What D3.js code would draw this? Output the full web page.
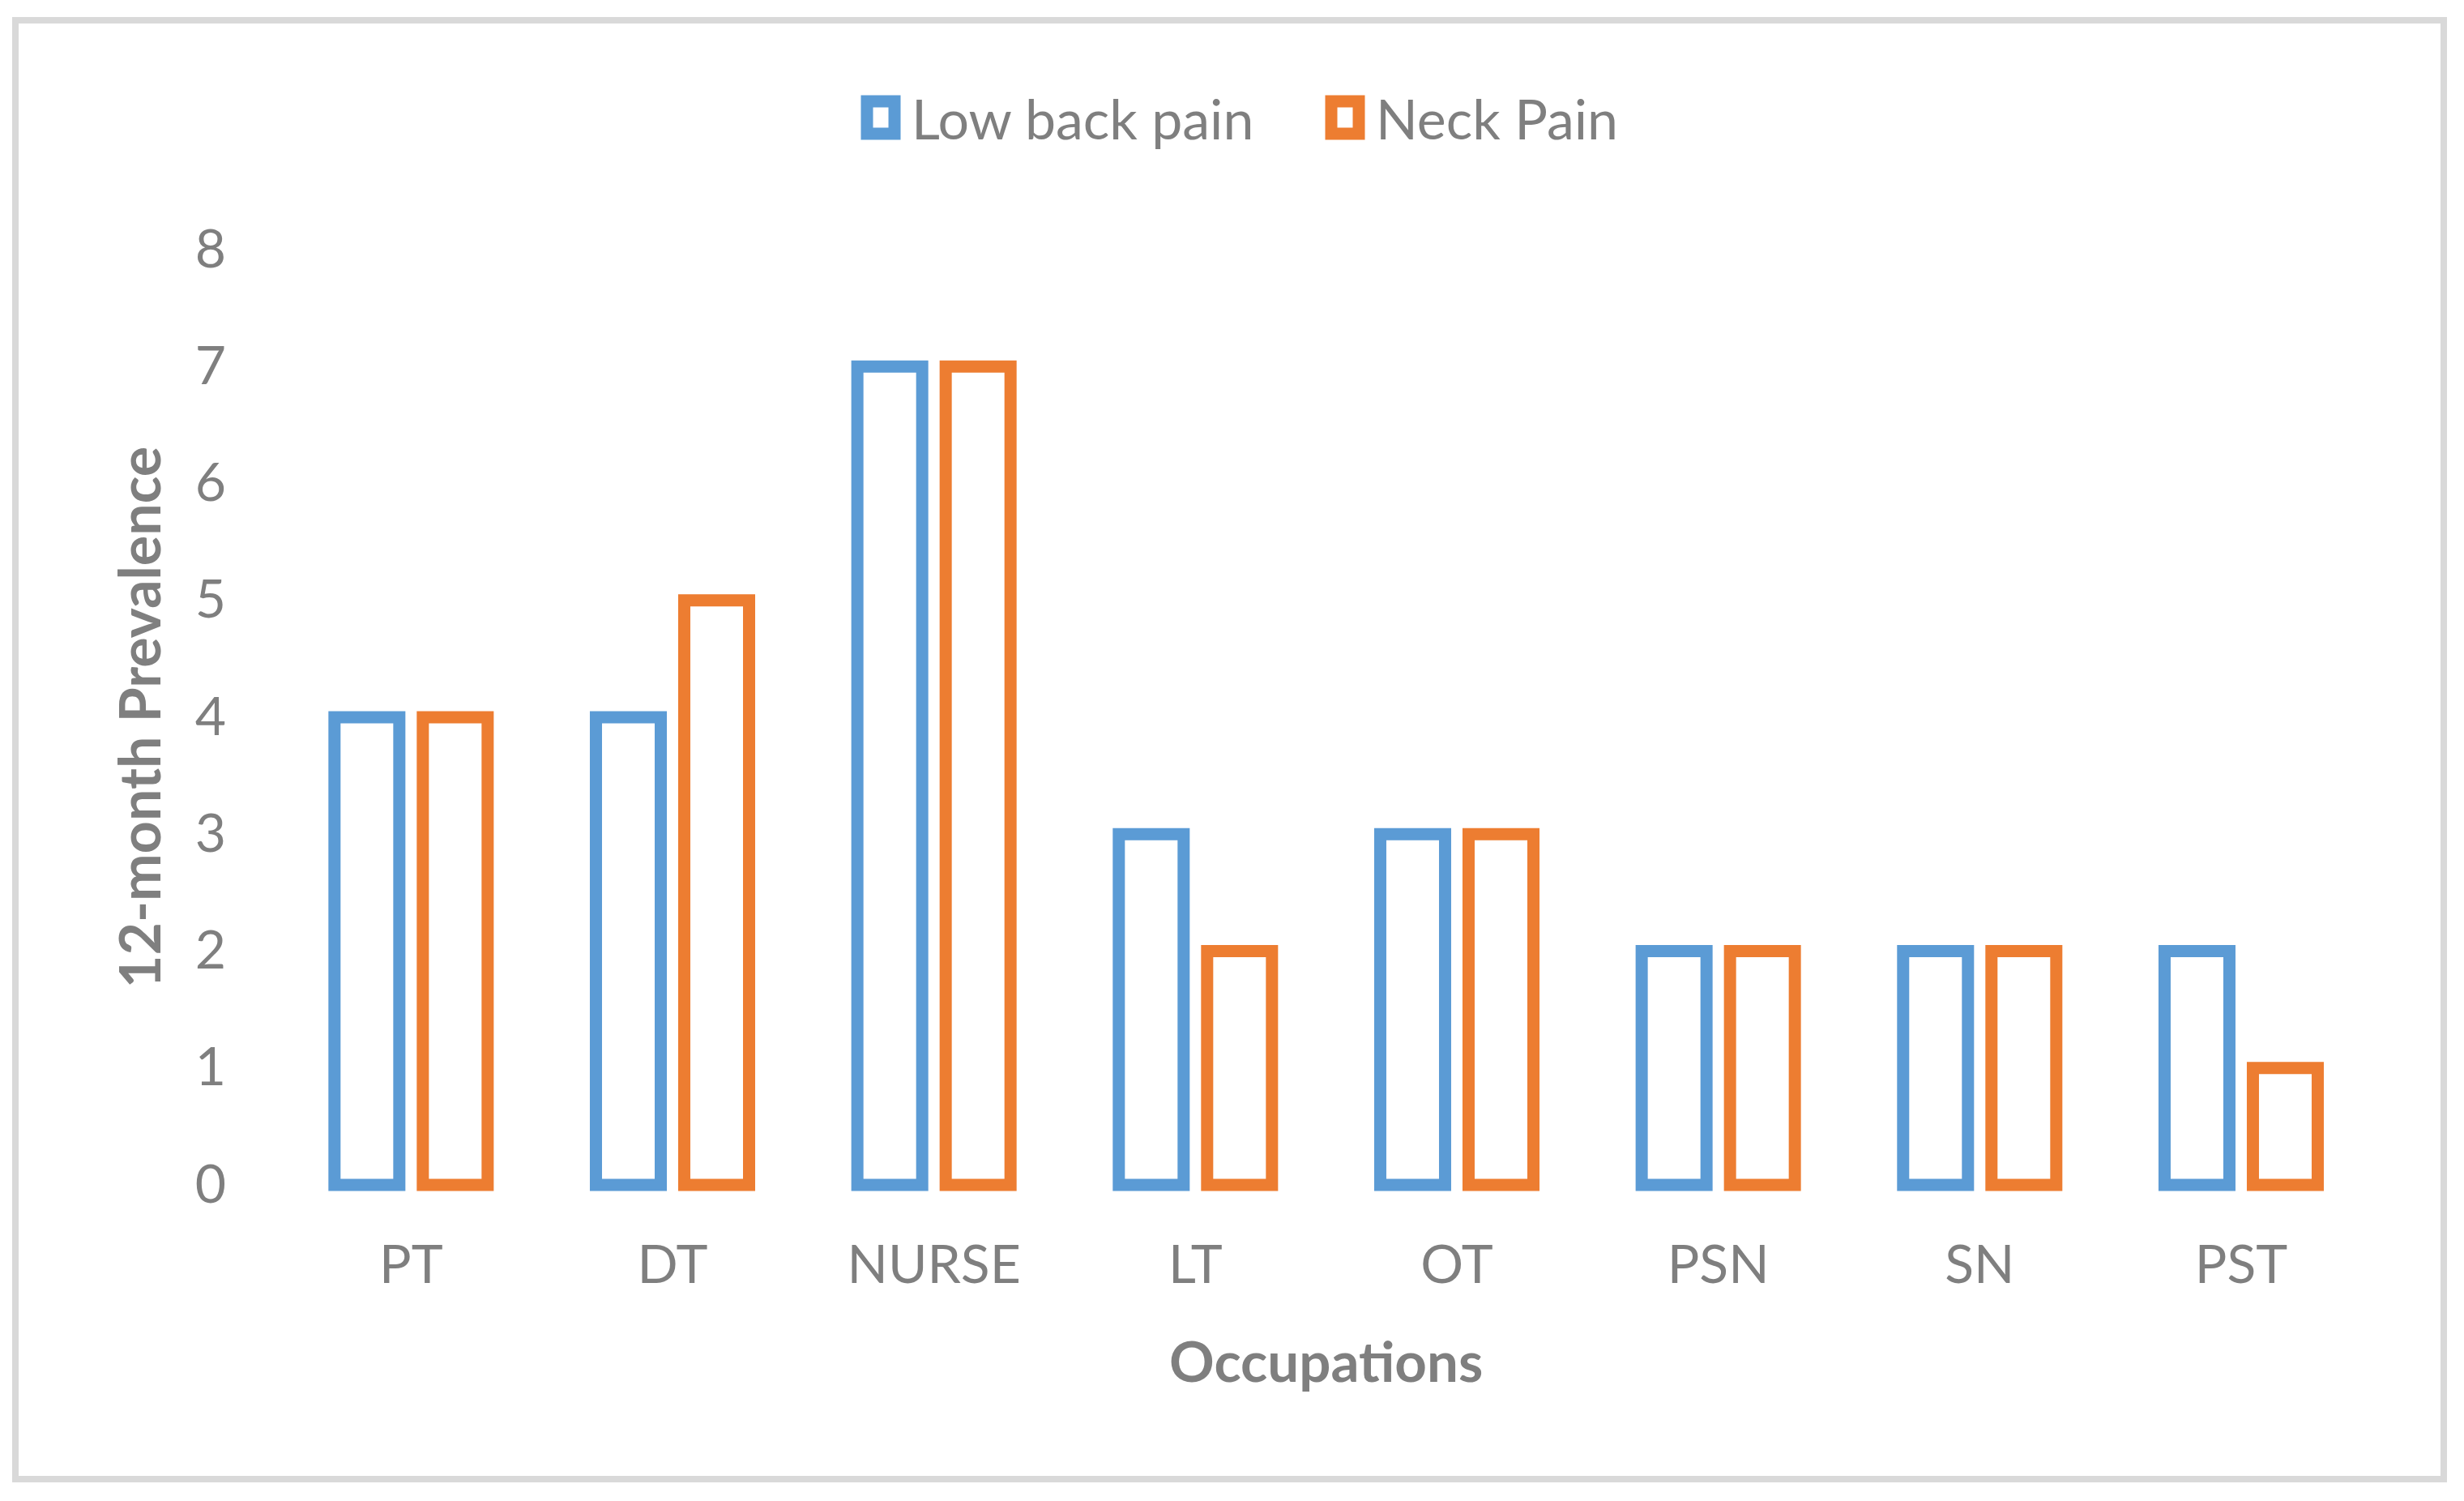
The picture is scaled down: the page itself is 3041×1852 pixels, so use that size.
<!DOCTYPE html>
<html>
<head>
<meta charset="utf-8">
<script src="https://cdn.jsdelivr.net/npm/d3@7"></script>
<style>
  html, body { margin: 0; padding: 0; background: #ffffff; }
  svg { display: block; }
  text { font-family: Lato, "Open Sans", sans-serif; }
</style>
</head>
<body>
<svg id="chart" width="3041" height="1852"></svg>
<script>
// ---- data ----
const categories = ["PT", "DT", "NURSE", "LT", "OT", "PSN", "SN", "PST"];
const lowBackPain = [4, 4, 7, 3, 3, 2, 2, 2];
const neckPain = [4, 5, 7, 2, 3, 2, 2, 1];
const seriesNames = ["Low back pain", "Neck Pain"];
const seriesColors = ["#5B9BD5", "#ED7D31"];
const yTickValues = [0, 1, 2, 3, 4, 5, 6, 7, 8];
const xTitle = "Occupations";
const yTitle = "12-month Prevalence";

const seriesValues = [lowBackPain, neckPain];
const rows = categories.map((c, i) => ({
  category: c,
  values: seriesNames.map((s, j) => ({ series: s, value: seriesValues[j][i], color: seriesColors[j] }))
}));

const svg = d3.select("#chart");
const W = 3041, H = 1852;
const textColor = "#7f7f7f";
const strokeW = 15;

// frame
svg.append("rect").attr("x", 0).attr("y", 0).attr("width", W).attr("height", H).attr("fill", "#ffffff");
svg.append("rect")
  .attr("x", 19).attr("y", 25).attr("width", 2997).attr("height", 1800)
  .attr("fill", "none").attr("stroke", "#d9d9d9").attr("stroke-width", 8);

// scales
const plot = { left: 346, right: 2927.3, top: 308, bottom: 1462 };
const x0 = d3.scaleBand().domain(categories).range([plot.left, plot.right]).padding(0);
const x1 = d3.scaleBand().domain(seriesNames).range([0, x0.bandwidth()]).paddingInner(0.266).paddingOuter(0.613);
const y = d3.scaleLinear().domain([0, 8]).range([plot.bottom, plot.top]);

// y axis
const yAxis = svg.append("g")
  .attr("transform", `translate(${plot.left},0)`)
  .call(d3.axisLeft(y).tickValues(yTickValues).tickSize(0).tickPadding(67).tickFormat(d3.format("d")));
yAxis.select(".domain").remove();
yAxis.selectAll("text").attr("fill", textColor).style("font-size", "66px").style("font-family", "Lato");

// x axis
const xAxis = svg.append("g")
  .attr("transform", `translate(0,${plot.bottom})`)
  .call(d3.axisBottom(x0).tickSize(0).tickPadding(74));
xAxis.select(".domain").remove();
xAxis.selectAll("text").attr("fill", textColor).style("font-size", "66px").style("font-family", "Lato");

// bars
const groups = svg.append("g").selectAll("g")
  .data(rows).join("g")
  .attr("transform", d => `translate(${x0(d.category)},0)`);
groups.selectAll("rect")
  .data(d => d.values).join("rect")
  .attr("x", d => x1(d.series))
  .attr("width", x1.bandwidth())
  .attr("y", d => y(d.value))
  .attr("height", d => y(0) - y(d.value))
  .attr("fill", "#ffffff")
  .attr("stroke", d => d.color)
  .attr("stroke-width", strokeW);

// axis titles
svg.append("text")
  .attr("x", (plot.left + plot.right) / 2).attr("y", 1678)
  .attr("text-anchor", "middle").attr("dominant-baseline", "central")
  .attr("fill", textColor).style("font-size", "69px").style("font-weight", "bold")
  .text(xTitle);
svg.append("text")
  .attr("transform", `translate(171,${(plot.top + plot.bottom) / 2}) rotate(-90)`)
  .attr("text-anchor", "middle").attr("dominant-baseline", "central")
  .attr("fill", textColor).style("font-size", "70px").style("font-weight", "bold")
  .text(yTitle);

// legend
const legendItems = [
  { name: seriesNames[0], color: seriesColors[0], x: 1063 },
  { name: seriesNames[1], color: seriesColors[1], x: 1636 }
];
const lg = svg.append("g").selectAll("g").data(legendItems).join("g")
  .attr("transform", d => `translate(${d.x},145)`);
lg.append("rect")
  .attr("x", 7).attr("y", -20).attr("width", 34).attr("height", 40)
  .attr("fill", "#ffffff").attr("stroke", d => d.color).attr("stroke-width", strokeW);
lg.append("text")
  .attr("x", 62).attr("y", 0).attr("dominant-baseline", "central")
  .attr("fill", textColor).style("font-size", "68px")
  .text(d => d.name);
</script>
</body>
</html>
